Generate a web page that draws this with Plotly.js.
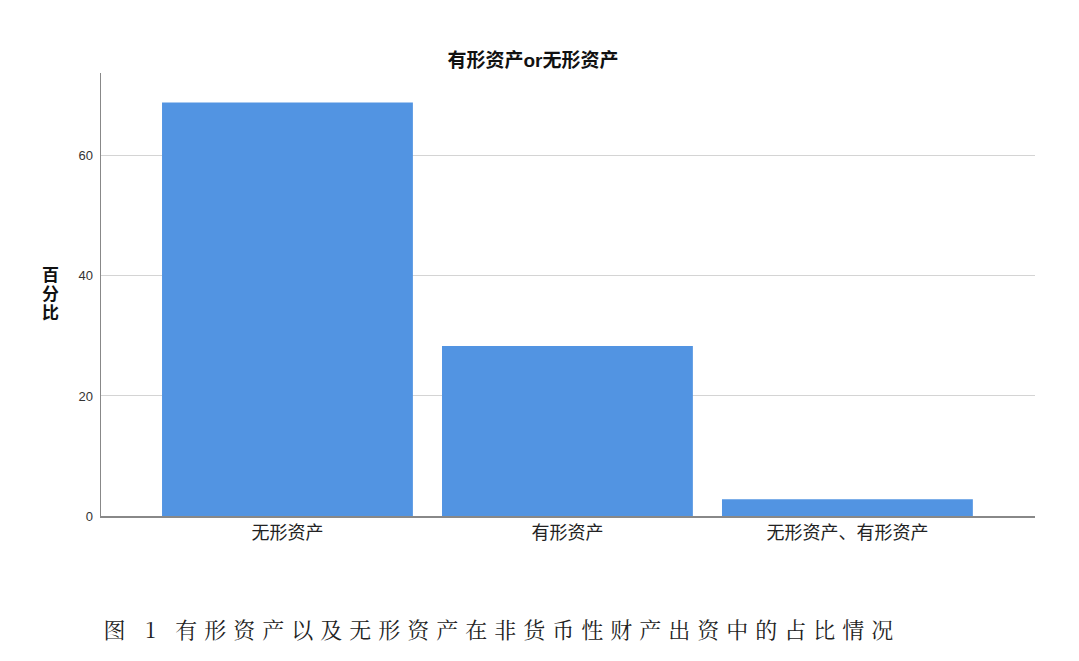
<!DOCTYPE html>
<html>
<head>
<meta charset="utf-8">
<script src="https://cdn.plot.ly/plotly-3.0.1.min.js"></script>
<style>
  html, body { margin: 0; padding: 0; background: #fff; }
  #chart { width: 1079px; height: 661px; }
  g.annotation[data-index="3"] text { letter-spacing: 7px; }
</style>
</head>
<body>
<div id="chart"></div>
<script>
// 资产类型与占比（%）
const categories = ['无形资产', '有形资产', '无形资产、有形资产'];
const percents = [68.9, 28.3, 2.8];
const yTicks = [0, 20, 40, 60];
const yTitle = '百分比';
const chartTitle = '有形资产or无形资产';
const caption = '图 1 有形资产以及无形资产在非货币性财产出资中的占比情况';

const CJK = '"Liberation Sans", "Noto Sans CJK SC", sans-serif';

const trace = {
    x: [0, 1, 2],
    y: percents,
    type: 'bar',
    marker: { color: '#5294e2', line: { width: 0 } },
    hoverinfo: 'y',
};

// y title is drawn upright, one character under the other
const yTitleNotes = yTitle.split('').map((ch, i) => ({
    text: '<b>' + ch + '</b>',
    xref: 'paper', yref: 'paper',
    x: -0.0546, y: 0.544 - i * 0.0429,
    xanchor: 'center', yanchor: 'middle',
    showarrow: false,
    font: { family: CJK, size: 17, color: '#111' },
}));

const layout = {
    width: 1079,
    height: 661,
    paper_bgcolor: '#ffffff',
    plot_bgcolor: '#ffffff',
    showlegend: false,
    bargap: 0.104,
    margin: { l: 101, r: 44, t: 73, b: 145 },
    font: { family: CJK, color: '#222' },
    title: {
        text: '<b>' + chartTitle + '</b>',
        font: { family: CJK, size: 19, color: '#111' },
        xref: 'paper', x: 0.4625, xanchor: 'center',
        yref: 'container', y: 0.909, yanchor: 'middle',
    },
    xaxis: {
        range: [-0.666, 2.67],
        tickvals: [0, 1, 2],
        ticktext: categories,
        tickfont: { size: 18, color: '#222' },
        showgrid: false,
        zeroline: false,
        showline: true,
        linecolor: '#888',
        linewidth: 1.5,
        ticks: '',
        fixedrange: true,
    },
    yaxis: {
        range: [0, 73.8],
        tickvals: yTicks,
        ticktext: yTicks.map(String),
        tickfont: { size: 13, color: '#333' },
        showgrid: true,
        gridcolor: '#d4d4d4',
        gridwidth: 1,
        zeroline: false,
        showline: true,
        linecolor: '#888',
        linewidth: 1.5,
        ticks: '',
        ticklabelstandoff: 4,
        fixedrange: true,
    },
    annotations: yTitleNotes.concat([
        {
            text: caption,
            xref: 'paper', yref: 'paper',
            x: 0.429, y: -0.253,
            xanchor: 'center', yanchor: 'middle',
            showarrow: false,
            font: { family: '"Noto Serif CJK SC", "Noto Sans CJK SC", serif', size: 22, color: '#222' },
        },
    ]),
};

Plotly.newPlot('chart', [trace], layout, { displayModeBar: false, staticPlot: true });
</script>
</body>
</html>
